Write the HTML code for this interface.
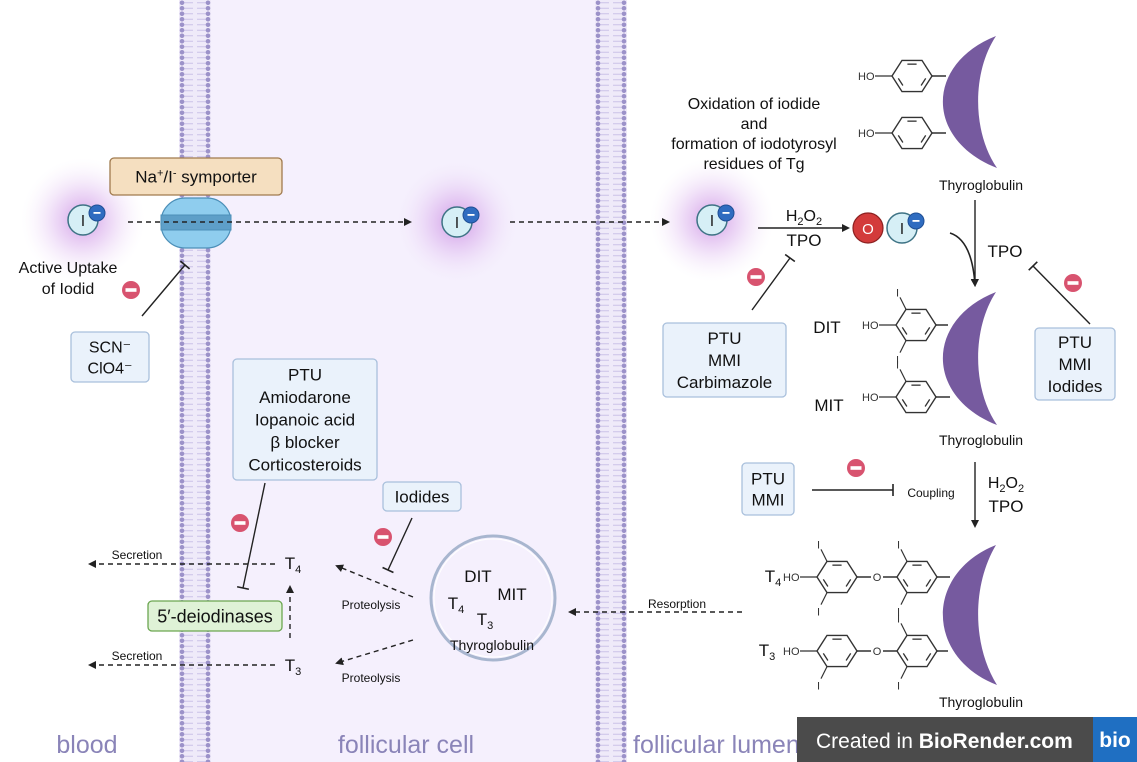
<!DOCTYPE html>
<html><head><meta charset="utf-8">
<style>
html,body{margin:0;padding:0;background:#fff;}
svg{display:block;font-family:"Liberation Sans",sans-serif;}
</style></head>
<body>
<svg id="s" width="1137" height="762" viewBox="0 0 1137 762">
<defs>
<pattern id="mem" x="0" y="0" width="32" height="5.5" patternUnits="userSpaceOnUse">
<rect width="32" height="5.5" fill="#efeaf9"/>
<line x1="5" y1="2.75" x2="14" y2="2.75" stroke="#cbc2e8" stroke-width="1"/>
<line x1="18" y1="2.75" x2="27" y2="2.75" stroke="#cbc2e8" stroke-width="1"/>
<circle cx="3" cy="2.75" r="2.3" fill="#9c92c9"/>
<circle cx="29" cy="2.75" r="2.3" fill="#9c92c9"/>
</pattern>
<radialGradient id="glow">
<stop offset="0" stop-color="#c683df" stop-opacity="0.8"/>
<stop offset="0.45" stop-color="#dcb4ee" stop-opacity="0.5"/>
<stop offset="1" stop-color="#f4eafb" stop-opacity="0"/>
</radialGradient>
<marker id="ar" markerWidth="8" markerHeight="8" refX="6" refY="4" orient="auto" markerUnits="userSpaceOnUse"><path d="M0,0 L8,4 L0,8 Z" fill="#222"/></marker>
</defs>

<rect x="211" y="0" width="384" height="762" fill="#f5f0fd"/>
<g transform="translate(179,0)"><rect x="0" y="0" width="32" height="762" fill="url(#mem)"/></g>
<g transform="translate(595,0)"><rect x="0" y="0" width="32" height="762" fill="url(#mem)"/></g>

<circle cx="83" cy="220" r="62" fill="url(#glow)"/>
<circle cx="457" cy="222" r="62" fill="url(#glow)"/>
<circle cx="712" cy="220" r="62" fill="url(#glow)"/>

<g id="g" stroke-linecap="butt"></g>

<text x="87" y="753" font-size="25" fill="#8a84b8" text-anchor="middle">blood</text>
<text x="406" y="753" font-size="25" fill="#8a84b8" text-anchor="middle">follicular cell</text>
<text x="633" y="753" font-size="25" fill="#8a84b8">follicular lumen</text>

<g>
<rect x="797" y="717" width="296" height="45" fill="#4b4b4b"/>
<text x="816" y="748" font-size="21" fill="#fff">Created in <tspan font-weight="bold">BioRender.com</tspan></text>
<rect x="1093" y="717" width="44" height="45" fill="#1f6fc2"/>
<text x="1115" y="747" font-size="21" font-weight="bold" fill="#fff" text-anchor="middle">bio</text>
</g>
</svg>
<script>
var NS="http://www.w3.org/2000/svg";
var G=document.getElementById('g');
function el(tag,attrs,parent,name,txt){
  var e=document.createElementNS(NS,tag);
  for(var k in attrs)e.setAttribute(k,attrs[k]);
  
  
  if(txt!==undefined)e.innerHTML=txt;
  (parent||G).appendChild(e);return e;
}
function txt(x,y,s,size,name,anchor){return el('text',{x:x,y:y,'font-size':size,'text-anchor':anchor||'middle',fill:'#111'},G,name,s);}
function line(x1,y1,x2,y2,name,dash,arrow){var a={x1:x1,y1:y1,x2:x2,y2:y2,stroke:'#222','stroke-width':1.4};if(dash)a['stroke-dasharray']='5,4';if(arrow)a['marker-end']='url(#ar)';return el('line',a,G,name);}
function inhib(x1,y1,x2,y2,name){line(x1,y1,x2,y2,name);var dx=x2-x1,dy=y2-y1,l=Math.hypot(dx,dy),px=-dy/l*6,py=dx/l*6;el('line',{x1:x2-px,y1:y2-py,x2:x2+px,y2:y2+py,stroke:'#222','stroke-width':1.6},G,name+'-bar');}
function minus(x,y,name){var g=el('g',{},G,name);el('circle',{cx:x,cy:y,r:9,fill:'#d8536f'},g,name+'-circle');el('rect',{x:x-5.5,y:y-1.8,width:11,height:3.6,fill:'#fff'},g,name+'-bar');}
function ion(x,y,name){var g=el('g',{},G,name);el('circle',{cx:x,cy:y,r:15,fill:'#d6eff6',stroke:'#3e7385','stroke-width':1.5},g,name+'-body');
 el('text',{x:x,y:y+6,'font-size':16,'text-anchor':'middle',fill:'#222'},g,name+'-label','I');
 el('circle',{cx:x+14,cy:y-7,r:8,fill:'#2f6cc0',stroke:'#1f4f95'},g,name+'-charge');
 el('rect',{x:x+10.5,y:y-8,width:7,height:1.8,fill:'#fff'},g,name+'-minus');}
function box(x,y,w,h,fill,stroke,lines,size,name,lh){var g=el('g',{},G,name);el('rect',{x:x,y:y,width:w,height:h,rx:4,fill:fill,stroke:stroke,'stroke-width':1.3},g,name+'-bg');
 var n=lines.length;lh=lh||size*1.3;var y0=y+h/2-(n-1)*lh/2+size*0.36;
 for(var i=0;i<n;i++)el('text',{x:x+w/2,y:y0+i*lh,'font-size':size,'text-anchor':'middle',fill:'#111'},g,name+'-line',lines[i]);}
var R=20;
function ring(cx,cy,name,iTop,iBot){var r=R,g=el('g',{},G,name),pts=[];
 for(var i=0;i<6;i++){var a=Math.PI/3*i;pts.push([cx+r*Math.cos(a),cy+r*0.9*Math.sin(a)]);}
 el('polygon',{points:pts.map(function(p){return p.join(',')}).join(' '),fill:'none',stroke:'#333','stroke-width':1.4},g,name+'-hex');
 [[0,1],[2,3],[4,5]].forEach(function(e){var p=pts[e[0]],q=pts[e[1]],k=0.76;
  el('line',{x1:cx+(p[0]-cx)*k+(q[0]-p[0])*0.15,y1:cy+(p[1]-cy)*k+(q[1]-p[1])*0.15,x2:cx+(q[0]-cx)*k-(q[0]-p[0])*0.15,y2:cy+(q[1]-cy)*k-(q[1]-p[1])*0.15,stroke:'#333','stroke-width':1.3},g,name+'-double');});
 if(iTop){el('line',{x1:pts[4][0],y1:pts[4][1],x2:pts[4][0]-6,y2:pts[4][1]-12,stroke:'#333','stroke-width':1.2},g,name+'-i-bond');el('text',{x:pts[4][0]-10,y:pts[4][1]-13,'font-size':11,fill:'#333'},g,name+'-i','I');}
 if(iBot){el('line',{x1:pts[2][0],y1:pts[2][1],x2:pts[2][0]-6,y2:pts[2][1]+12,stroke:'#333','stroke-width':1.2},g,name+'-i-bond');el('text',{x:pts[2][0]-10,y:pts[2][1]+23,'font-size':11,fill:'#333'},g,name+'-i','I');}
 return g;}
function ho(cx,y,name){var x=cx-R;el('text',{x:x-34,y:y+4,'font-size':11,fill:'#333'},G,name+'-text','HO');el('line',{x1:x-17,y1:y,x2:x,y2:y,stroke:'#333','stroke-width':1.2},G,name+'-bond');}
function crescent(y1,y2,name){var m=(y1+y2)/2;el('path',{d:'M996,'+y1+' C925,'+(y1+28)+' 925,'+(y2-28)+' 997,'+y2+' C972,'+(m+30)+' 972,'+(m-30)+' 996,'+y1+' Z',fill:'#765a9f'},G,name);}

ion(83,220,'iodide-blood');
txt(68,273,'Active Uptake',16,'active-uptake-label');
txt(68,294,'of Iodid',16,'active-uptake-label-2');
minus(131,290,'inhibit-icon-scn');
inhib(142,316,185,265,'scn-inhibition-line');
box(71,332,78,50,'#eaf2fb','#a9c0dc',['SCN⁻','ClO4⁻'],16,'scn-clo4-box',21);
box(110,158,172,37,'#f5dfc0','#a07a4e',['Na<tspan font-size="11" dy="-6">+</tspan><tspan dy="6">/I</tspan><tspan font-size="11" dy="-6">-</tspan><tspan dy="6"> symporter</tspan>'],17,'symporter-label');
var sg=el('g',{},G,'na-i-symporter');
el('rect',{x:161,y:198,width:70,height:50,rx:24,fill:'#8fcdee',stroke:'#4c8fb8','stroke-width':1.2},sg,'symporter-body');
el('rect',{x:161,y:215,width:70,height:15,fill:'#5e9fc8',stroke:'#4c8fb8'},sg,'symporter-channel');
line(128,222,410,222,'uptake-arrow',true,true);
ion(457,222,'iodide-cell');
line(510,222,668,222,'efflux-arrow',true,true);

box(233,359,144,121,'#eaf2fb','#a9c0dc',['PTU','Amiodarone','Iopanoic acid','β blocker','Corticosteroids'],17,'deiodinase-inhibitors-box',22.5);
inhib(265,483,243,588,'deiodinase-inhibition-line');
minus(240,523,'inhibit-icon-deiodinase');
box(383,482,78,29,'#eaf2fb','#a9c0dc',['Iodides'],17,'iodides-box');
inhib(412,518,388,570,'proteolysis-inhibition-line');
minus(383,537,'inhibit-icon-proteolysis');
txt(293,569,'T<tspan font-size="11" dy="4">4</tspan>',17,'t4-cell');
txt(293,671,'T<tspan font-size="11" dy="4">3</tspan>',17,'t3-cell');
line(275,564,90,564,'t4-secretion-arrow',true,true);
line(275,665,90,665,'t3-secretion-arrow',true,true);
txt(137,559,'Secretion',12,'secretion-label-t4');
txt(137,660,'Secretion',12,'secretion-label-t3');
box(148,601,134,30,'#dff2d6','#6ca651',['5′-deiodinases'],18,'deiodinases-box');
line(290,638,290,587,'deiodination-arrow',true,true);
line(413,597,337,566,'t4-proteolysis-arrow',true,true);
line(413,640,337,663,'t3-proteolysis-arrow',true,true);
txt(371,609,'Proteolysis',12,'proteolysis-label-t4');
txt(371,682,'Proteolysis',12,'proteolysis-label-t3');
el('circle',{cx:493,cy:598,r:62,fill:'none',stroke:'#a8b6cf','stroke-width':3},G,'thyroglobulin-vesicle');
el('circle',{cx:493,cy:598,r:59,fill:'none',stroke:'#fff','stroke-width':1},G,'vesicle-inner');
txt(478,582,'DIT',17,'vesicle-dit');
txt(512,600,'MIT',17,'vesicle-mit');
txt(456,609,'T<tspan font-size="11" dy="4">4</tspan>',17,'vesicle-t4');
txt(485,625,'T<tspan font-size="11" dy="4">3</tspan>',17,'vesicle-t3');
txt(492,650,'Thyroglobulin',14,'vesicle-thyroglobulin');
line(742,612,570,612,'resorption-arrow',true,true);
txt(677,608,'Resorption',12,'resorption-label');

['Oxidation of iodide','and','formation of iodotyrosyl','residues of Tg'].forEach(function(s,i){txt(754,109+i*20,s,16,'oxidation-label-'+i);});
ion(712,220,'iodide-lumen');
line(758,228,848,228,'oxidation-arrow',false,true);
txt(804,221,'H<tspan font-size="11" dy="4">2</tspan><tspan dy="-4">O</tspan><tspan font-size="11" dy="4">2</tspan>',16,'h2o2-label-1');
txt(804,246,'TPO',17,'tpo-label-1');
el('circle',{cx:868,cy:228,r:15,fill:'#d33b3b',stroke:'#8c2020','stroke-width':1.2},G,'oxygen-atom');
el('text',{x:868,y:234,'font-size':15,'text-anchor':'middle',fill:'#fff'},G,'oxygen-label','O');
ion(902,228,'iodide-oxidized');
minus(756,277,'inhibit-icon-tpo');
inhib(752,310,790,258,'tpo-inhibition-line');
box(663,323,123,74,'#eaf2fb','#a9c0dc',['PTU','MMI','Carbimazole'],17,'tpo-inhibitors-box',22);
el('path',{d:'M950,233 Q972,240 975,285',fill:'none',stroke:'#222','stroke-width':1.6,'marker-end':'url(#ar)'},G,'iodination-arrow');
line(975,200,975,285,'iodination-arrow-main',false,true);
txt(1005,257,'TPO',17,'tpo-label-2');
minus(1073,283,'inhibit-icon-iodination');
inhib(1090,324,1033,266,'iodination-inhibition-line');
box(1035,328,80,72,'#eaf2fb','#a9c0dc',['PTU','MMI','Iodides'],17,'iodination-inhibitors-box',22);

crescent(36,168,'thyroglobulin-top');
crescent(292,425,'thyroglobulin-middle');
crescent(545,685,'thyroglobulin-bottom');
txt(981,190,'Thyroglobulin',14,'thyroglobulin-label-top');
txt(981,445,'Thyroglobulin',14,'thyroglobulin-label-middle');
txt(981,707,'Thyroglobulin',14,'thyroglobulin-label-bottom');

[76,133].forEach(function(y,i){ring(912,y,'tyrosine-ring-'+i);ho(912,y,'tyrosine-ho-'+i);line(932,y,946,y,'tyrosine-link-'+i);});
ring(916,325,'dit-ring',true,true);ho(916,325,'dit-ho');line(936,325,948,325,'dit-link');
ring(916,397,'mit-ring',true,false);ho(916,397,'mit-ho');line(936,397,950,397,'mit-link');
txt(827,333,'DIT',17,'dit-label');
txt(829,411,'MIT',17,'mit-label');
line(975,462,975,526,'coupling-arrow',false,true);
txt(1006,488,'H<tspan font-size="11" dy="4">2</tspan><tspan dy="-4">O</tspan><tspan font-size="11" dy="4">2</tspan>',16,'h2o2-label-2');
txt(1006,512,'TPO',17,'tpo-label-3');
box(742,463,52,52,'#eaf2fb','#a9c0dc',['PTU','MMI'],17,'coupling-inhibitors-box',21);
inhib(812,490,893,490,'coupling-inhibition-line');
minus(856,468,'inhibit-icon-coupling');
txt(931,497,'Coupling',12,'coupling-label');
ring(837,577,'t4-ring-outer',true,true);ho(837,577,'t4-ho');
line(857,577,871,577,'t4-ether-1');el('text',{x:877,y:581,'font-size':11,'text-anchor':'middle',fill:'#333'},G,'t4-oxygen','O');line(883,577,897,577,'t4-ether-2');
ring(917,577,'t4-ring-inner',true,true);line(937,577,950,577,'t4-link');
ring(837,651,'t3-ring-outer',false,true);ho(837,651,'t3-ho');
line(857,651,871,651,'t3-ether-1');el('text',{x:877,y:655,'font-size':11,'text-anchor':'middle',fill:'#333'},G,'t3-oxygen','O');line(883,651,897,651,'t3-ether-2');
ring(917,651,'t3-ring-inner',true,true);line(937,651,948,651,'t3-link');
txt(773,582,'T<tspan font-size="11" dy="4">4</tspan>',17,'t4-label');
txt(767,656,'T<tspan font-size="11" dy="4">3</tspan>',17,'t3-label');
</script>
</body></html>
